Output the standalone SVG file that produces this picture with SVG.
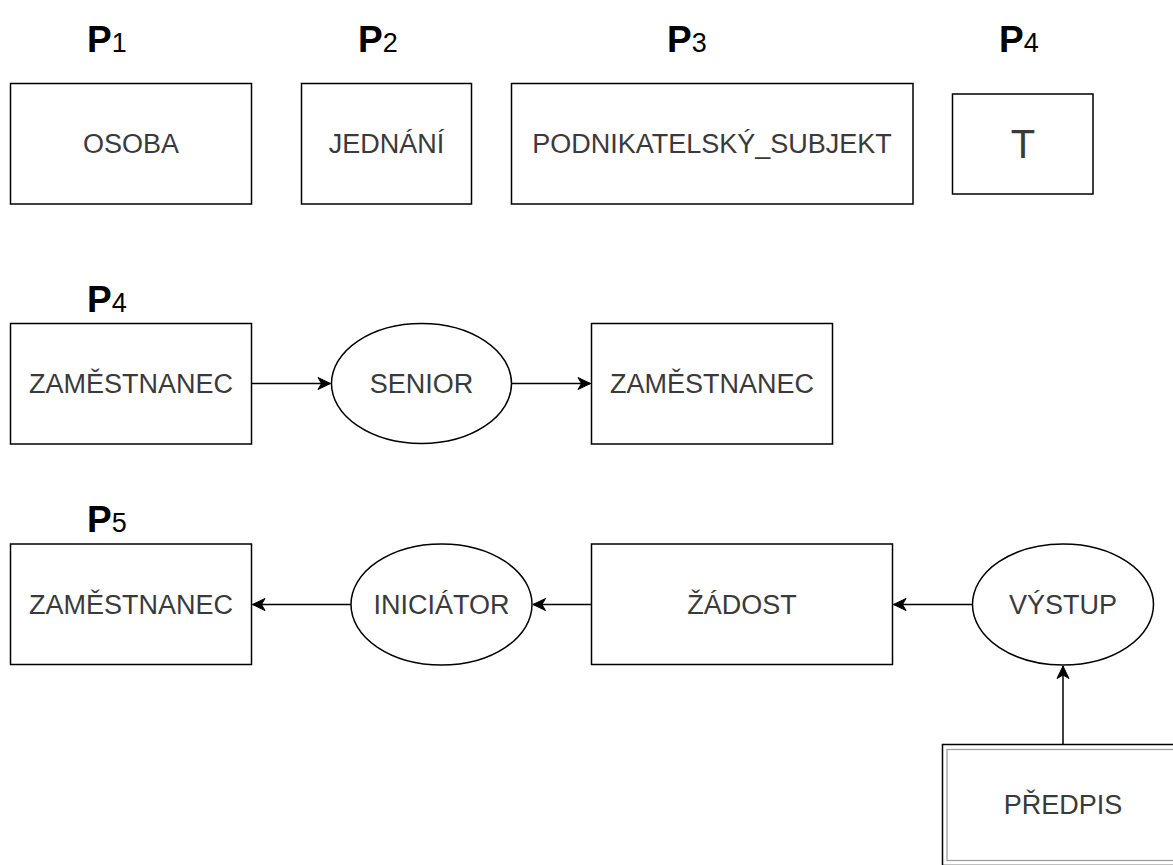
<svg xmlns="http://www.w3.org/2000/svg" width="1173" height="865" viewBox="0 0 1173 865">
  <style>
    .box { fill: #ffffff; stroke: #000000; stroke-width: 1.5; }
    .inner { fill: none; stroke: #9a9a9a; stroke-width: 1.2; }
    .lbl { font-family: "Liberation Sans", Arial, sans-serif; font-size: 27px; fill: #3a3a3a; text-anchor: middle; dominant-baseline: central; }
    .big { font-size: 40px; }
    .pnum { font-family: "Liberation Sans", Arial, sans-serif; fill: #000000; }
    .pnum .p { font-weight: bold; font-size: 37px; }
    .pnum .n { font-size: 27px; }
    .edge { fill: none; stroke: #000000; stroke-width: 1.5; }
  </style>
  <defs>
    <marker id="arrow" viewBox="-14 -8 16 16" refX="0" refY="0" markerWidth="16" markerHeight="16" markerUnits="userSpaceOnUse" orient="auto">
      <path d="M0,0 L-12.5,-6 L-9,0 L-12.5,6 Z" fill="#000000" stroke="#000000" stroke-width="1"/>
    </marker>
  </defs>
  <rect width="1173" height="865" fill="#ffffff"/>

  <!-- section titles -->
  <g id="titles">
    <text class="pnum" x="87" y="52"><tspan class="p">P</tspan><tspan class="n">1</tspan></text>
    <text class="pnum" x="358" y="52"><tspan class="p">P</tspan><tspan class="n">2</tspan></text>
    <text class="pnum" x="667" y="52"><tspan class="p">P</tspan><tspan class="n">3</tspan></text>
    <text class="pnum" x="999" y="52"><tspan class="p">P</tspan><tspan class="n">4</tspan></text>
    <text class="pnum" x="87" y="312"><tspan class="p">P</tspan><tspan class="n">4</tspan></text>
    <text class="pnum" x="87" y="532"><tspan class="p">P</tspan><tspan class="n">5</tspan></text>
  </g>

  <!-- row 1 -->
  <g id="osoba">
    <rect class="box" x="10.5" y="83.5" width="241" height="120.5"/>
    <text class="lbl" x="131" y="144">OSOBA</text>
  </g>
  <g id="jednani">
    <rect class="box" x="301.5" y="83.5" width="170" height="120.5"/>
    <text class="lbl" x="386.5" y="144">JEDNÁNÍ</text>
  </g>
  <g id="podnikatelsky-subjekt">
    <rect class="box" x="511.5" y="83.5" width="401.5" height="120.5"/>
    <text class="lbl" x="712" y="144">PODNIKATELSKÝ_SUBJEKT</text>
  </g>
  <g id="t">
    <rect class="box" x="952.5" y="94" width="140.5" height="100"/>
    <text class="lbl big" x="1023" y="144">T</text>
  </g>

  <!-- row 2 -->
  <g id="zamestnanec-a">
    <rect class="box" x="10.5" y="323.5" width="241" height="120.5"/>
    <text class="lbl" x="131" y="384">ZAMĚSTNANEC</text>
  </g>
  <g id="senior">
    <ellipse class="box" cx="421.5" cy="383.5" rx="90" ry="60"/>
    <text class="lbl" x="421.5" y="384">SENIOR</text>
  </g>
  <g id="zamestnanec-b">
    <rect class="box" x="591.5" y="323.5" width="241" height="120.5"/>
    <text class="lbl" x="712" y="384">ZAMĚSTNANEC</text>
  </g>

  <!-- row 3 -->
  <g id="zamestnanec-c">
    <rect class="box" x="10.5" y="544" width="241" height="120.5"/>
    <text class="lbl" x="131" y="604.5">ZAMĚSTNANEC</text>
  </g>
  <g id="iniciator">
    <ellipse class="box" cx="441.5" cy="604.5" rx="90.5" ry="60.5"/>
    <text class="lbl" x="441.5" y="604.5">INICIÁTOR</text>
  </g>
  <g id="zadost">
    <rect class="box" x="591.5" y="544" width="301" height="120.5"/>
    <text class="lbl" x="742" y="604.5">ŽÁDOST</text>
  </g>
  <g id="vystup">
    <ellipse class="box" cx="1063" cy="604.5" rx="90.5" ry="60.5"/>
    <text class="lbl" x="1063" y="604.5">VÝSTUP</text>
  </g>
  <g id="predpis">
    <rect class="box" x="942.5" y="744.5" width="240" height="121"/>
    <rect class="inner" x="947" y="749.5" width="231" height="111"/>
    <text class="lbl" x="1063" y="805">PŘEDPIS</text>
  </g>

  <!-- connectors -->
  <g id="connectors">
    <path class="edge" d="M251.5,383.5 L330.5,383.5" marker-end="url(#arrow)"/>
    <path class="edge" d="M511.5,383.5 L590.5,383.5" marker-end="url(#arrow)"/>
    <path class="edge" d="M351,604.5 L252.5,604.5" marker-end="url(#arrow)"/>
    <path class="edge" d="M591.5,604.5 L533,604.5" marker-end="url(#arrow)"/>
    <path class="edge" d="M972.5,604.5 L893.5,604.5" marker-end="url(#arrow)"/>
    <path class="edge" d="M1063,744.5 L1063,666" marker-end="url(#arrow)"/>
  </g>
</svg>
